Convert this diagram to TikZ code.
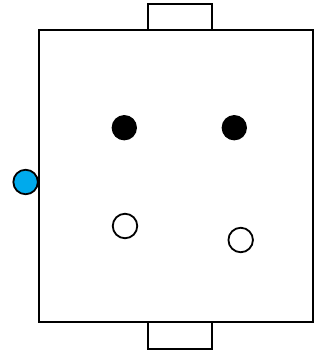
\documentclass[tikz,border=0pt]{standalone}
\usetikzlibrary{positioning}
\definecolor{dotblue}{RGB}{0,170,236}

\begin{document}
\begin{tikzpicture}[x=1pt, y=-1pt,
    board/.style={draw, line width=2.5pt, fill=white, inner sep=0pt, outer sep=0pt},
    dot/.style={circle, draw, line width=1.8pt, inner sep=0pt, minimum size=23.5pt}]
    \useasboundingbox (0,0) rectangle (323,351);

    \node[board, minimum width=274pt, minimum height=292pt] (box) at (176,176) {};
    \node[board, minimum width=64pt, minimum height=26pt, above=0pt of box.north, xshift=4pt] (toptab) {};
    \node[board, minimum width=64pt, minimum height=27pt, below=0pt of box.south, xshift=4pt] (bottab) {};

    \node[dot, fill=black] (fullA) at (124.3,127.7) {};
    \node[dot, fill=black] (fullB) at (234.3,127.7) {};
    \node[dot, fill=white, minimum size=24.5pt] (openA) at (125,226) {};
    \node[dot, fill=white, minimum size=24.5pt] (openB) at (240.7,240) {};

    \node[dot, fill=dotblue, minimum size=24.5pt] (side) at (25.6,182) {};
\end{tikzpicture}
\end{document}
